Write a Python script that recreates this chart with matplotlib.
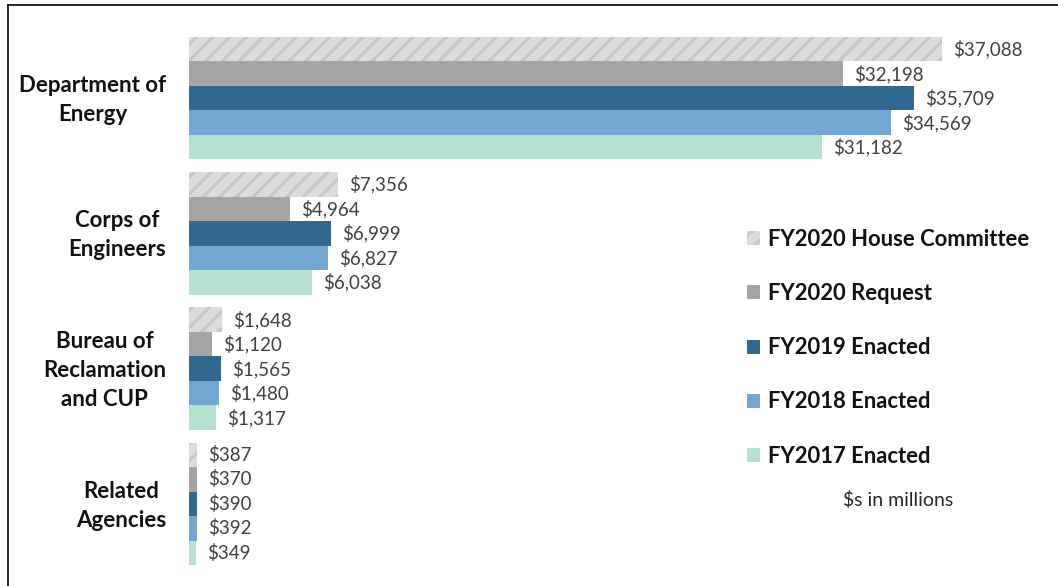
import matplotlib
matplotlib.use("Agg")
import matplotlib.pyplot as plt
import numpy as np
from matplotlib.lines import Line2D
from matplotlib.transforms import ScaledTranslation

categories = ["Department of\nEnergy", "Corps of\nEngineers", "Bureau of\nReclamation\nand CUP", "Related\nAgencies"]
series_names = ["FY2020 House Committee", "FY2020 Request", "FY2019 Enacted", "FY2018 Enacted", "FY2017 Enacted"]
house_2020 = [37088, 7356, 1648, 387]
request_2020 = [32198, 4964, 1120, 370]
enacted_2019 = [35709, 6999, 1565, 390]
enacted_2018 = [34569, 6827, 1480, 392]
enacted_2017 = [31182, 6038, 1317, 349]
series_values = [house_2020, request_2020, enacted_2019, enacted_2018, enacted_2017]

colors = ["#dcdcdc", "#a5a5a5", "#31688f", "#71a7d1", "#b3e3d0"]

plt.rcParams["font.family"] = ["Lato", "DejaVu Sans"]
plt.rcParams["hatch.linewidth"] = 2.2

W, H = 1058, 586
fig = plt.figure(figsize=(W / 100, H / 100), dpi=100)
ax = fig.add_axes([189 / W, (H - 571.5) / H, 812 / W, 541 / H])

y = np.arange(len(categories))
bh = 0.181
handles = []
for i, (name, vals, col) in enumerate(zip(series_names, series_values, colors)):
    pos = y + (i - 2) * bh
    if i == 0:
        bars = ax.barh(pos, vals, height=bh, color=col, edgecolor="#c6c6c6", lw=0, hatch="//", label=name)
    else:
        bars = ax.barh(pos, vals, height=bh, color=col, lw=0, label=name)
    handles.append(bars)
    for p, v in zip(pos, vals):
        ax.annotate(f"${v:,}", xy=(v, p), xytext=(8, 0), textcoords="offset points",
                    va="center", ha="left", fontsize=13.5, color="#404040")

ax.set_xlim(0, 40000)
ax.set_ylim(3.5, -0.5)
ax.set_yticks(y)
ax.set_yticklabels(categories, fontsize=16, fontweight="bold", ha="right",
                   multialignment="center", linespacing=1.45, color="#111111")
ax.tick_params(axis="y", length=0, pad=16.5)
ax.tick_params(axis="x", bottom=False, labelbottom=False)
shift = ScaledTranslation(0, 4 / 100, fig.dpi_scale_trans)
for lab in ax.get_yticklabels():
    lab.set_transform(lab.get_transform() + shift)
for s in ax.spines.values():
    s.set_visible(False)

leg = fig.legend(handles=handles, labels=series_names, loc="upper left",
                 bbox_to_anchor=(747 / W, 1 - 229 / H), frameon=False,
                 prop={"family": ["Lato", "DejaVu Sans"], "weight": "bold", "size": 15.8},
                 handlelength=0.6, handleheight=0.6, handletextpad=0.37,
                 labelspacing=1.51, borderpad=0, borderaxespad=0)
for t in leg.get_texts():
    t.set_color("#111111")

fig.text(898 / W, 1 - 500 / H, "$s in millions", ha="center", va="center", fontsize=14, color="#262626")

fig.add_artist(Line2D([8 / W, 8 / W], [0, 1 - 5 / H], color="black", lw=1.2, transform=fig.transFigure))
fig.add_artist(Line2D([8 / W, 1], [1 - 5 / H, 1 - 5 / H], color="black", lw=1.2, transform=fig.transFigure))

fig.savefig("out.png", dpi=100)
